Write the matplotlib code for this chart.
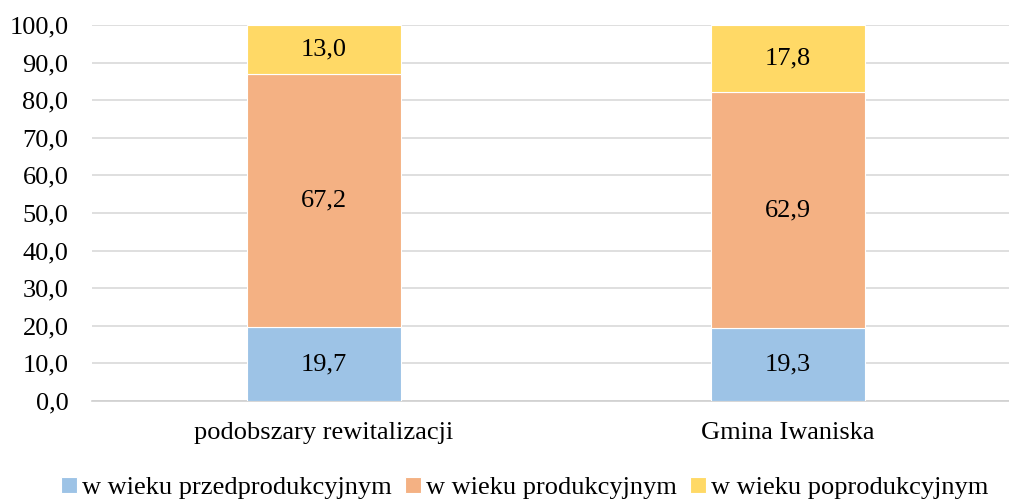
import matplotlib
matplotlib.use('Agg')
import matplotlib.pyplot as plt
import numpy as np

# dane
kategorie = ['podobszary rewitalizacji', 'Gmina Iwaniska']
przedprod = [19.7, 19.3]
prod = [67.2, 62.9]
poprod = [13.0, 17.8]
serie = ['w wieku przedprodukcyjnym', 'w wieku produkcyjnym', 'w wieku poprodukcyjnym']
kolory = ['#9DC3E6', '#F4B183', '#FFD966']

plt.rcParams['font.family'] = ['Liberation Serif', 'DejaVu Serif']
plt.rcParams['font.size'] = 19

fig = plt.figure(figsize=(10.09, 4.99), dpi=100)
ax = fig.add_axes([92 / 1009, 98 / 499, 928 / 1009, 376 / 499])

x = np.arange(len(kategorie))
w = 0.33
dol = np.zeros(len(kategorie))
for vals, lab, c in zip([przedprod, prod, poprod], serie, kolory):
    ax.bar(x, vals, w, bottom=dol, color=c, edgecolor='white', linewidth=0.8, label=lab, zorder=3)
    for xi, b, v in zip(x, dol, vals):
        ax.text(xi, b + v / 2, f'{v:.1f}'.replace('.', ','), ha='center', va='center', zorder=4)
    dol = dol + np.array(vals)

ax.set_xlim(-0.5, -0.5 + 928 / 464)
ax.set_ylim(0, 100)
ax.set_yticks(np.arange(0, 101, 10))
ax.set_yticklabels([f'{t:.1f}'.replace('.', ',') for t in np.arange(0, 101, 10)])
ax.set_xticks(x)
ax.set_xticklabels(kategorie)
ax.yaxis.grid(True, color='#D9D9D9', linewidth=1.2, zorder=0)
ax.set_axisbelow(True)
for s in ['top', 'right', 'left']:
    ax.spines[s].set_visible(False)
ax.spines['bottom'].set_color('#D0D0D0')
ax.spines['bottom'].set_linewidth(1.2)
ax.tick_params(axis='y', length=0, pad=17)
ax.tick_params(axis='x', length=0, pad=15)

fig.legend(loc='center', bbox_to_anchor=(525 / 1009, 11 / 499), ncol=3, frameon=False,
           handlelength=0.6, handleheight=0.6, handletextpad=0.2, columnspacing=0.5)

fig.savefig('out.png', dpi=100)
